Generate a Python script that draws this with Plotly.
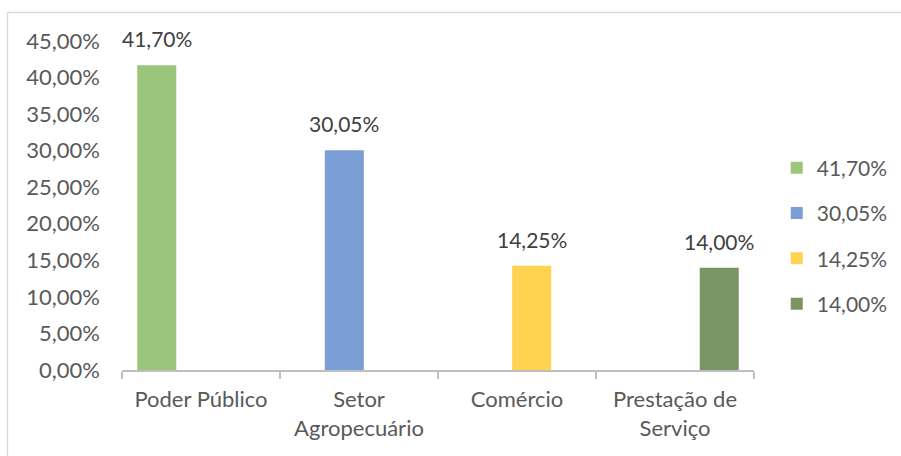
import plotly.graph_objects as go

categories = ["Poder Público", "Setor<br>Agropecuário", "Comércio", "Prestação de<br>Serviço"]
values = [0.4170, 0.3005, 0.1425, 0.1400]
labels = ["41,70%", "30,05%", "14,25%", "14,00%"]
colors = ["#9BC57B", "#7C9ED6", "#FFD24F", "#799565"]

y_ticks = [i * 0.05 for i in range(10)]

bar_width = 0.247
centers = [-0.28, -0.093, 0.093, 0.28]

FONT = "Lato"
FS = 22
fig = go.Figure()
for i, (cat, v, lab, col) in enumerate(zip(categories, values, labels, colors)):
    fig.add_trace(go.Bar(
        x=[cat], y=[v], name=lab, marker_color=col, marker_line_width=0,
        width=bar_width, offset=centers[i] - bar_width / 2,
        legendgroup=str(i), showlegend=True,
    ))
    fig.add_annotation(x=i + centers[i], y=v, text=lab, showarrow=False,
                       yanchor="bottom", yshift=12,
                       font=dict(family=FONT, size=21, color="#404040"))

fig.update_layout(
    width=901, height=456,
    margin=dict(l=122, r=147, t=41, b=86, autoexpand=False),
    paper_bgcolor="white", plot_bgcolor="white",
    barmode="overlay",
    separators=",.",
    font=dict(family=FONT, size=FS, color="#595959"),
    showlegend=True,
    legend=dict(x=1.036, y=0.407, xanchor="left", yanchor="middle",
                tracegroupgap=15, font=dict(family=FONT, size=21, color="#595959"),
                itemwidth=30),
    xaxis=dict(categoryorder="array", categoryarray=categories,
               range=[-0.5, 3.5], showline=True, linecolor="#BFBFBF", linewidth=2,
               ticks="outside", tickson="boundaries", ticklen=7, tickwidth=2,
               tickcolor="#BFBFBF", showgrid=False, zeroline=False,
               ticklabelstandoff=9, automargin=False,
               tickfont=dict(family=FONT, size=FS, color="#595959")),
    yaxis=dict(range=[0, 0.45], tickvals=y_ticks, tickformat=".2%",
               showgrid=False, zeroline=False, showline=False, ticks="",
               ticklabelstandoff=21, automargin=False,
               tickfont=dict(family=FONT, size=FS, color="#595959")),
    shapes=[
        dict(type="line", xref="paper", yref="paper",
             x0=(7.5 - 122) / 632, x1=(901 - 122) / 632,
             y0=(370 - 12.5) / 329, y1=(370 - 12.5) / 329,
             line=dict(color="#D9D9D9", width=1.5)),
        dict(type="line", xref="paper", yref="paper",
             x0=(7.5 - 122) / 632, x1=(7.5 - 122) / 632,
             y0=(370 - 12.5) / 329, y1=(370 - 456) / 329,
             line=dict(color="#D9D9D9", width=1.5)),
    ],
)

fig.write_html("out.html")
